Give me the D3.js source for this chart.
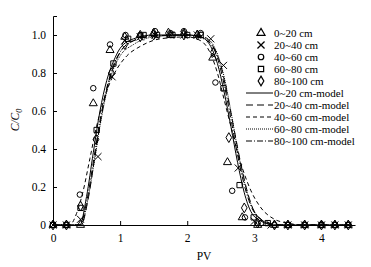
<!DOCTYPE html>
<html>
<head>
<meta charset="utf-8">
<script src="https://cdn.jsdelivr.net/npm/d3@7"></script>
<style>
body { margin: 0; background: #fff; }
text { font-family: "Liberation Serif", "DejaVu Serif", serif; }
</style>
</head>
<body>
<script>
var width = 371;
var height = 267;

// observed points [PV, C/C0]
var obs0_20 = [[0,0],[0.2,0],[0.41,0],[0.6,0.64],[0.85,0.92],[1.07,0.99],[1.3,1.0],[1.5,1.01],[1.75,1.0],[1.95,1.01],[2.15,1.0],[2.38,0.88],[2.6,0.33],[2.82,0.04],[3.05,0],[3.3,0],[3.5,0],[3.75,0],[4.0,0],[4.2,0],[4.4,0]];
var obs20_40 = [[0,0],[0.2,0],[0.41,0.03],[0.67,0.36],[0.88,0.78],[1.07,0.97],[1.3,0.99],[1.52,1.0],[1.75,1.0],[1.95,1.0],[2.15,1.0],[2.35,0.98],[2.54,0.84],[2.76,0.3],[3.0,0.02],[3.25,0],[3.5,0],[3.75,0],[4.0,0],[4.2,0],[4.4,0]];
var obs40_60 = [[0,0],[0.2,0],[0.4,0.16],[0.6,0.72],[0.85,0.95],[1.08,1.0],[1.3,1.0],[1.52,1.02],[1.75,1.01],[1.95,1.02],[2.2,1.01],[2.42,0.75],[2.67,0.18],[2.86,0.04],[3.1,0.01],[3.3,0],[3.5,0],[3.75,0],[4.0,0],[4.2,0],[4.4,0]];
var obs60_80 = [[0,0],[0.2,0],[0.41,0.09],[0.65,0.5],[0.9,0.85],[1.12,0.98],[1.35,1.0],[1.55,1.0],[1.78,1.0],[2.0,1.0],[2.2,1.0],[2.54,0.72],[2.78,0.21],[2.99,0.04],[3.2,0.01],[3.5,0],[3.75,0],[4.0,0],[4.2,0],[4.4,0]];
var obs80_100 = [[0,0],[0.2,0],[0.41,0.1],[0.64,0.45],[0.87,0.8],[1.07,0.95],[1.3,0.99],[1.5,1.0],[1.72,1.01],[1.95,1.0],[2.15,1.0],[2.39,0.91],[2.62,0.46],[2.85,0.09],[3.05,0.01],[3.3,0],[3.5,0],[3.75,0],[4.0,0],[4.2,0],[4.4,0]];

// model curves
var mod0_20 = [[0,0],[0.4,0],[0.5,0.15],[0.6,0.38],[0.7,0.6],[0.8,0.76],[0.9,0.86],[1.0,0.93],[1.2,0.98],[1.5,1.0],[2.0,1.0],[2.2,0.99],[2.35,0.94],[2.45,0.85],[2.55,0.7],[2.65,0.52],[2.75,0.33],[2.85,0.17],[2.95,0.07],[3.1,0.02],[3.3,0],[4.45,0]];
var mod20_40 = [[0,0],[0.42,0],[0.52,0.13],[0.62,0.35],[0.72,0.57],[0.82,0.74],[0.92,0.85],[1.02,0.92],[1.2,0.97],[1.5,0.995],[2.0,1.0],[2.25,0.99],[2.4,0.93],[2.5,0.84],[2.6,0.68],[2.7,0.5],[2.8,0.32],[2.9,0.17],[3.0,0.07],[3.15,0.02],[3.4,0],[4.45,0]];
var mod40_60 = [[0,0],[0.25,0],[0.35,0.06],[0.45,0.18],[0.55,0.35],[0.65,0.52],[0.75,0.65],[0.85,0.75],[0.95,0.82],[1.1,0.89],[1.3,0.94],[1.6,0.98],[2.0,0.99],[2.2,0.97],[2.35,0.9],[2.45,0.8],[2.55,0.66],[2.65,0.52],[2.75,0.38],[2.85,0.27],[2.95,0.18],[3.1,0.09],[3.3,0.03],[3.5,0.01],[3.7,0],[4.45,0]];
var mod60_80 = [[0,0],[0.42,0],[0.5,0.1],[0.6,0.3],[0.7,0.52],[0.8,0.7],[0.9,0.82],[1.0,0.89],[1.2,0.95],[1.5,0.99],[2.0,1.0],[2.3,0.98],[2.45,0.9],[2.55,0.78],[2.65,0.6],[2.75,0.4],[2.85,0.23],[2.95,0.11],[3.1,0.03],[3.3,0],[4.45,0]];
var mod80_100 = [[0,0],[0.4,0],[0.5,0.12],[0.6,0.33],[0.7,0.55],[0.8,0.72],[0.9,0.84],[1.0,0.91],[1.2,0.97],[1.5,0.995],[2.0,1.0],[2.3,0.97],[2.45,0.88],[2.55,0.74],[2.65,0.56],[2.75,0.37],[2.85,0.21],[2.95,0.1],[3.1,0.03],[3.3,0],[4.45,0]];

var obsNames = ["0~20 cm", "20~40 cm", "40~60 cm", "60~80 cm", "80~100 cm"];
var modNames = ["0~20 cm-model", "20~40 cm-model", "40~60 cm-model", "60~80 cm-model", "80~100 cm-model"];
var xTicks = [0, 1, 2, 3, 4];
var yTicks = [0, 0.2, 0.4, 0.6, 0.8, 1.0];

var observed = [obs0_20, obs20_40, obs40_60, obs60_80, obs80_100];
var models = [mod0_20, mod20_40, mod40_60, mod60_80, mod80_100];
var dashes = [null, "7,4", "4,3", "1,1", "6,2,1,2"];

// thin open markers; the x-mark is two strokes
var xMark = { draw: function(ctx, size) {
    var r = Math.sqrt(size) / 2;
    ctx.moveTo(-r, -r); ctx.lineTo(r, r);
    ctx.moveTo(-r, r); ctx.lineTo(r, -r);
} };
var symbols = [d3.symbolTriangle, xMark, d3.symbolCircle, d3.symbolSquare, d3.symbolDiamond];
var sizes = [28, 50, 24, 28, 28];

var svg = d3.select("body").append("svg")
    .attr("width", width)
    .attr("height", height);

var x = d3.scaleLinear().domain([0, 4.5]).range([53, 355]);
var y = d3.scaleLinear().domain([0, 1.1]).range([225, 16]);

var line = d3.line()
    .x(function(d) { return x(d[0]); })
    .y(function(d) { return y(d[1]); })
    .curve(d3.curveMonotoneX);

// axes
var xAxis = svg.append("g")
    .attr("transform", "translate(0," + y(0) + ")")
    .call(d3.axisBottom(x).tickValues(xTicks).tickSize(-4).tickSizeOuter(0).tickFormat(d3.format("d")));
var yAxis = svg.append("g")
    .attr("transform", "translate(" + x(0) + ",0)")
    .call(d3.axisLeft(y).tickValues(yTicks).tickSize(-4).tickSizeOuter(-4)
        .tickFormat(function(d) { return d === 0 ? "0" : d3.format(".1f")(d); }));

svg.selectAll(".domain, .tick line").attr("stroke", "#000");
xAxis.selectAll("text").attr("dy", "0").attr("y", 17).style("font-size", "11.5px").attr("fill", "#000");
yAxis.selectAll("text").attr("x", -7).style("font-size", "11.5px").attr("fill", "#000");

svg.append("text")
    .attr("x", 204).attr("y", 260)
    .attr("text-anchor", "middle")
    .style("font-size", "11.5px")
    .text("PV");

var yl = svg.append("text")
    .attr("transform", "translate(19,120) rotate(-90)")
    .attr("text-anchor", "middle")
    .style("font-size", "11.5px")
    .style("font-style", "italic");
yl.append("tspan").text("C/C");
yl.append("tspan").attr("dy", 3).style("font-size", "8px").text("0");

// model lines
svg.selectAll(".model")
    .data(models)
    .enter()
    .append("path")
    .attr("class", "model")
    .attr("d", line)
    .attr("fill", "none")
    .attr("stroke", "#000")
    .attr("stroke-width", 1)
    .attr("stroke-dasharray", function(d, i) { return dashes[i]; });

// observed markers
observed.forEach(function(series, i) {
    svg.selectAll(".obs" + i)
        .data(series)
        .enter()
        .append("path")
        .attr("class", "obs" + i)
        .attr("transform", function(d) { return "translate(" + x(d[0]) + "," + y(d[1]) + ")"; })
        .attr("d", d3.symbol().type(symbols[i]).size(sizes[i]))
        .attr("fill", "none")
        .attr("stroke", "#000")
        .attr("stroke-width", 1);
});

// legend
var legend = svg.append("g");
obsNames.forEach(function(name, i) {
    var ly = 33 + i * 12;
    legend.append("path")
        .attr("transform", "translate(261," + ly + ")")
        .attr("d", d3.symbol().type(symbols[i]).size(sizes[i]))
        .attr("fill", "none")
        .attr("stroke", "#000")
        .attr("stroke-width", i === 1 ? 1.3 : 1.2);
    legend.append("text")
        .attr("x", 274).attr("y", ly + 4)
        .style("font-size", "11px")
        .text(name);
});
modNames.forEach(function(name, i) {
    var ly = 93 + i * 12;
    legend.append("line")
        .attr("x1", 246).attr("x2", 273)
        .attr("y1", ly).attr("y2", ly)
        .attr("stroke", "#000")
        .attr("stroke-dasharray", dashes[i]);
    legend.append("text")
        .attr("x", 274).attr("y", ly + 4)
        .style("font-size", "11px")
        .text(name);
});
</script>
</body>
</html>
